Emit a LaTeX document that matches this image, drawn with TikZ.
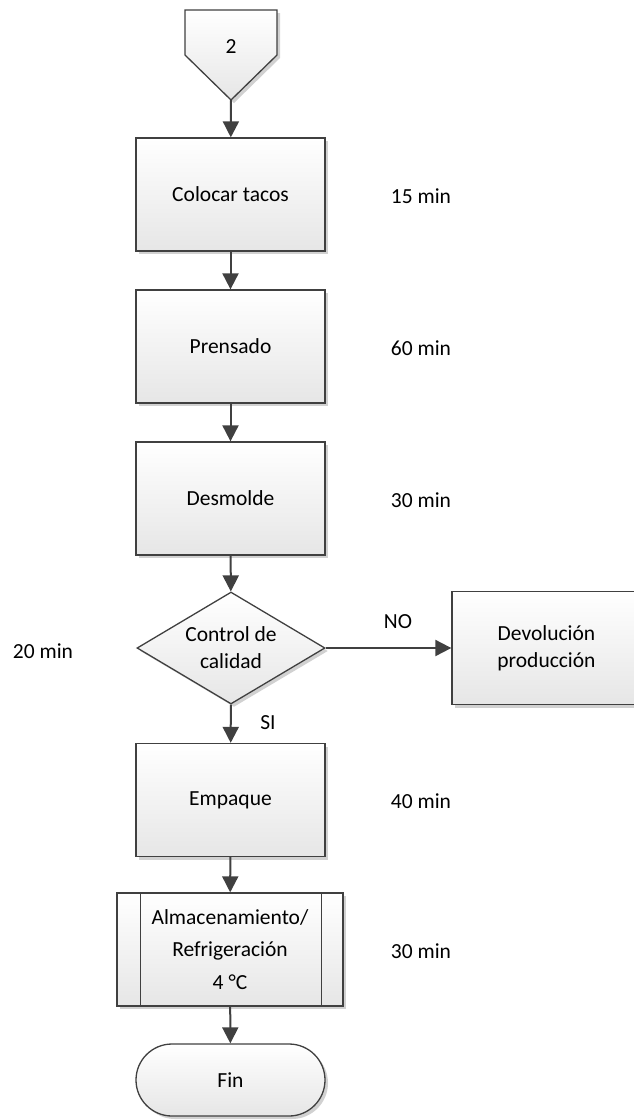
\documentclass[tikz,border=0pt]{standalone}
\usepackage{fontspec}
\setmainfont{Carlito}
\usetikzlibrary{arrows.meta,shapes.geometric,shapes.misc,shadows,calc}
\definecolor{linec}{HTML}{404040}
\definecolor{fillb}{HTML}{E6E6E6}
\begin{document}
\begin{tikzpicture}[x=1pt,y=-1pt,
  font=\fontsize{21.5}{27}\selectfont,
  shp/.style={draw=linec, line width=1.3pt, top color=white, bottom color=fillb,
    inner sep=0pt, align=center,
    drop shadow={shadow xshift=3pt, shadow yshift=-3pt, fill=black, opacity=0.18}},
  box/.style={shp, rectangle, minimum width=189pt, minimum height=113pt},
  dec/.style={shp, diamond, shape aspect=1.68, minimum width=188pt, minimum height=112pt},
  term/.style={shp, rounded rectangle, minimum width=189pt, minimum height=72pt},
  arr/.style={draw=linec, line width=2pt, -{Triangle[length=16pt,width=16pt]}},
  lbl/.style={inner sep=0pt}
]
\useasboundingbox (0,0) rectangle (634,1120);
% off-page connector
\draw[shp] (185,10) -- (277,10) -- (277,55) -- (231,100) -- (185,55) -- cycle;
\node[lbl] (op) at (231,47) {2};
\coordinate (opt) at (231,100);
% process boxes
\node[box] (b1) at (230.5,194.5) {Colocar tacos};
\node[box] (b2) at (230.5,346.5) {Prensado};
\node[box] (b3) at (230.5,498.5) {Desmolde};
\node[dec] (dia) at (231,648) {Control de\\calidad};
\node[box] (dev) at (546.5,648) {Devolución\\producción};
\node[box] (emp) at (230.5,800) {Empaque};
\node[box, minimum width=226pt, font=\fontsize{21.5}{32.5}\selectfont] (st) at (230,949.5) {Almacenamiento/\\Refrigeración\\4 °C};
\draw[linec, line width=1.3pt] ($(st.north west)+(24,0)$) -- ($(st.south west)+(24,0)$);
\draw[linec, line width=1.3pt] ($(st.north east)+(-22,0)$) -- ($(st.south east)+(-22,0)$);
\node[term] (fin) at (230.5,1080) {Fin};
% connectors
\draw[arr] (opt) -- (b1);
\draw[arr] (b1) -- (b2);
\draw[arr] (b2) -- (b3);
\draw[arr] (b3) -- (dia);
\draw[arr] (dia.east) -- (dev.west);
\draw[arr] (dia) -- (emp);
\draw[arr] (emp) -- (st);
\draw[arr] (st) -- (fin);
% labels
\node[lbl] (l1) at (421,196) {15 min};
\node[lbl] (l2) at (421,348) {60 min};
\node[lbl] (l3) at (421,500) {30 min};
\node[lbl] (l4) at (43,651) {20 min};
\node[lbl] (lno) at (398,622) {NO};
\node[lbl] (lsi) at (268,723) {SI};
\node[lbl] (l5) at (421,801) {40 min};
\node[lbl] (l6) at (421,951) {30 min};
\end{tikzpicture}
\end{document}
